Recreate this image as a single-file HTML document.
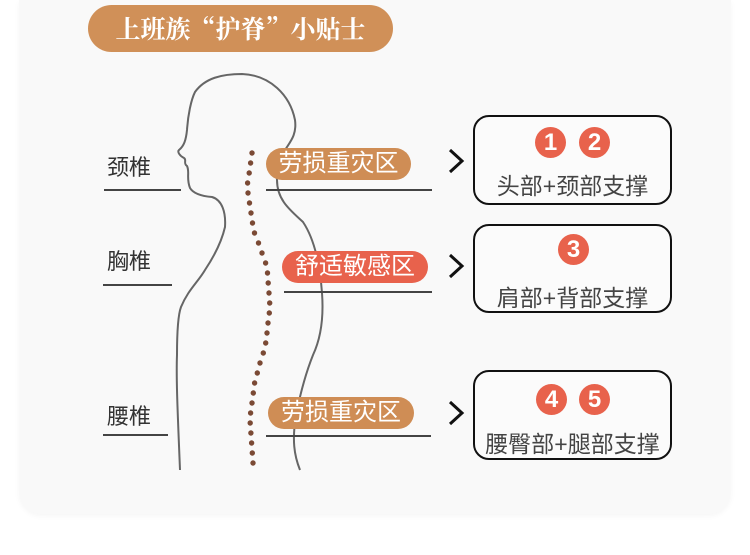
<!DOCTYPE html>
<html><head><meta charset="utf-8"><style>
body{margin:0;width:750px;height:555px;background:#fff;overflow:hidden;position:relative;font-family:"Liberation Sans","Noto Sans CJK SC",sans-serif}
.card{position:absolute;left:19px;top:0;width:712px;height:514px;background:#f9f9f9;border-radius:0 0 22px 22px;box-shadow:0 2px 6px rgba(0,0,0,0.04)}
.title{position:absolute;left:88px;top:5px;width:305px;height:47px;border-radius:24px;background:#d09058;color:#fff;font-family:"Noto Serif CJK SC","Liberation Serif",serif;font-weight:bold;font-size:25px;line-height:47px;text-align:center;letter-spacing:0px}
.lab{position:absolute;font-size:22px;color:#333}
.ln{position:absolute;height:2px;background:#444}
.pill{position:absolute;height:32px;border-radius:16px;color:#fff;font-size:24px;line-height:32px;text-align:center;letter-spacing:0px}
.box{position:absolute;left:473px;width:195px;border:2px solid #111;border-radius:16px;background:#fbfbfb}
.num{position:absolute;width:31px;height:31px;border-radius:50%;background:#e8624c;color:#fff;font-size:24px;line-height:31px;text-align:center;font-weight:bold}
.bt{position:absolute;left:-10px;width:215px;text-align:center;font-size:23px;color:#444;white-space:nowrap}
</style></head><body>
<div class="card"></div>
<div class="title">上班族“护脊”小贴士</div>
<svg style="position:absolute;left:0;top:0" width="750" height="555">
<path d="M180,470 C178,420 176,380 177,355 C177,330 178,315 181,307 C188,290 198,282 205,270 C215,255 222,240 225,227 C226,212 222,200 212,197 C200,196 193,193 190,188 C186,178 190,172 187,166 C183,163 187,160 184,158 C180,156 177,152 179,150 C184,146 186,140 187,130 C188,115 191,100 195,92 C205,78 222,74 242,74 C270,75 290,95 295,120 C297,135 290,142 285,150 C279,160 276,170 277,180 C277,200 290,210 303,222 C315,240 320,265 322,293 C324,320 320,340 313,355 C305,375 300,395 296,415 C292,440 294,455 300,470" fill="none" stroke="#666" stroke-width="2"/>
<g fill="#7b4a35">
<circle cx="252" cy="153" r="2.7"/><circle cx="250.6" cy="163" r="2.7"/><circle cx="249.2" cy="173" r="2.7"/><circle cx="247.6" cy="183" r="2.7"/><circle cx="248" cy="193" r="2.7"/><circle cx="249.5" cy="203" r="2.7"/><circle cx="251" cy="213" r="2.7"/><circle cx="252.5" cy="223" r="2.7"/><circle cx="254.5" cy="233" r="2.7"/><circle cx="258.5" cy="243" r="2.7"/><circle cx="262" cy="253" r="2.7"/><circle cx="265.6" cy="263" r="2.7"/><circle cx="267.5" cy="273" r="2.7"/><circle cx="268.2" cy="283" r="2.7"/><circle cx="269" cy="293" r="2.7"/><circle cx="269.7" cy="303" r="2.7"/><circle cx="269.3" cy="313" r="2.7"/><circle cx="268" cy="323" r="2.7"/><circle cx="267" cy="333" r="2.7"/><circle cx="265.7" cy="343" r="2.7"/><circle cx="263.3" cy="353" r="2.7"/><circle cx="260" cy="363" r="2.7"/><circle cx="257.3" cy="373" r="2.7"/><circle cx="254.6" cy="383" r="2.7"/><circle cx="253.3" cy="393" r="2.7"/><circle cx="252" cy="403" r="2.7"/><circle cx="250.6" cy="413" r="2.7"/><circle cx="250.2" cy="423" r="2.7"/><circle cx="250.9" cy="433" r="2.7"/><circle cx="251.6" cy="443" r="2.7"/><circle cx="252.3" cy="453" r="2.7"/><circle cx="253" cy="463" r="2.7"/>
</g>
<g fill="none" stroke="#111" stroke-width="3">
<polyline points="450,150 462,161 450,172"/>
<polyline points="450,255 462,266 450,277"/>
<polyline points="450,402 462,413 450,424"/>
</g>
</svg>
<div class="lab" style="left:107px;top:150px">颈椎</div>
<div class="ln" style="left:104px;top:189px;width:77px"></div>
<div class="lab" style="left:107px;top:244px">胸椎</div>
<div class="ln" style="left:103px;top:284px;width:69px"></div>
<div class="lab" style="left:107px;top:399px">腰椎</div>
<div class="ln" style="left:103px;top:434px;width:65px"></div>

<div class="pill" style="left:266px;top:148px;width:145px;background:#cf8d55">劳损重灾区</div>
<div class="ln" style="left:266px;top:189px;width:166px"></div>
<div class="pill" style="left:282px;top:251px;width:146px;background:#e8624c">舒适敏感区</div>
<div class="ln" style="left:284px;top:291px;width:148px"></div>
<div class="pill" style="left:268px;top:397px;width:146px;background:#cf8d55">劳损重灾区</div>
<div class="ln" style="left:266px;top:435px;width:165px"></div>

<div class="box" style="top:115px;height:86px">
<div class="num" style="left:60px;top:10px">1</div><div class="num" style="left:104px;top:10px">2</div>
<div class="bt" style="top:50px">头部+颈部支撑</div></div>
<div class="box" style="top:224px;height:85px">
<div class="num" style="left:83px;top:8px">3</div>
<div class="bt" style="top:53px">肩部+背部支撑</div></div>
<div class="box" style="top:370px;height:86px">
<div class="num" style="left:61px;top:12px">4</div><div class="num" style="left:104px;top:12px">5</div>
<div class="bt" style="top:53px">腰臀部+腿部支撑</div></div>
</body></html>
